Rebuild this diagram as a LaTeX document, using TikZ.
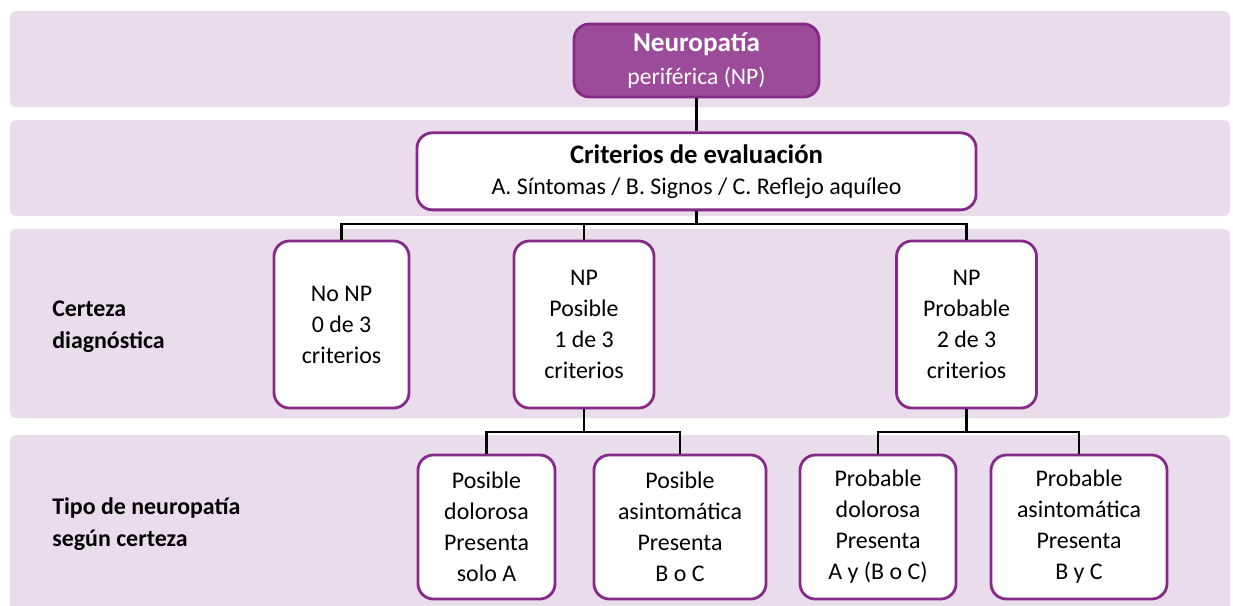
\documentclass[tikz,border=0pt]{standalone}
\usepackage{fontspec}
\setmainfont{Carlito}
\usepackage{xcolor}
\usepackage{tikz}
\usetikzlibrary{positioning,calc}

\definecolor{bandfill}{HTML}{EADDEB}
\definecolor{boxline}{HTML}{862A8A}
\definecolor{topfill}{HTML}{9B4B99}

\begin{document}
\begin{tikzpicture}[x=0.025cm, y=-0.025cm]
        % Kiểu cho các dải nền, các ô và đường nối
        \tikzstyle{band} = [fill=bandfill, rounded corners=4pt]
        \tikzstyle{box} = [
            draw=boxline,
            line width=2pt,
            fill=white,
            rounded corners=11pt,
            align=center,
            inner sep=0pt,
            font=\fontsize{17}{22}\selectfont
        ]
        \tikzstyle{topbox} = [box, fill=topfill, text=white, font=\fontsize{16.8}{23}\selectfont]
        \tikzstyle{link} = [line width=1.6pt]
        \tikzstyle{rowlabel} = [anchor=west, align=left, inner sep=0pt, font=\fontsize{17}{22.5}\selectfont\bfseries]

        \useasboundingbox (0,0) rectangle (1233,605);
        \clip (0,0) rectangle (1233,605);

        % Bốn dải nền
        \fill[band] (10,11) rectangle (1230,107);
        \fill[band] (10,120) rectangle (1230,216);
        \fill[band] (10,229) rectangle (1230,418);
        \fill[band] (10,435) rectangle (1230,620);

        % Nhãn bên trái
        \node[rowlabel] (certeza) at (52,327) {Certeza\\diagnóstica};
        \node[rowlabel] (tipo) at (52,524) {Tipo de neuropatía\\según certeza};

        % Ô gốc và ô tiêu chí
        \node[topbox, minimum width=6.125cm, minimum height=1.825cm] (np) at (696.5,60.5)
            {{\fontsize{19.3}{23}\selectfont\bfseries Neuropatía}\\periférica (NP)};
        \node[box, minimum width=13.975cm, minimum height=1.925cm, below=0.825cm of np] (crit)
            {{\fontsize{19}{22}\selectfont\bfseries Criterios de evaluación}\\A. Síntomas / B. Signos / C. Reflejo aquíleo};

        % Ba ô mức chắc chắn
        \node[box, minimum width=3.375cm, minimum height=4.175cm] (nonp) at (341.5,324.5)
            {No NP\\0 de 3\\criterios};
        \node[box, minimum width=3.5cm, minimum height=4.175cm] (posible) at (584,324.5)
            {NP\\Posible\\1 de 3\\criterios};
        \node[box, minimum width=3.5cm, minimum height=4.175cm] (probable) at (966.5,324.5)
            {NP\\Probable\\2 de 3\\criterios};

        % Bốn ô loại bệnh
        \node[box, minimum width=3.425cm, minimum height=3.6cm] (posdol) at (486.5,527)
            {Posible\\dolorosa\\Presenta\\solo A};
        \node[box, minimum width=4.3cm, minimum height=3.6cm] (posasin) at (680,527)
            {Posible\\asintomática\\Presenta\\B o C};
        \node[box, minimum width=3.9cm, minimum height=3.6cm] (probdol) at (878,527)
            {Probable\\dolorosa\\Presenta\\A y (B o C)};
        \node[box, minimum width=4.4cm, minimum height=3.6cm] (probasin) at (1079,527)
            {Probable\\asintomática\\Presenta\\B y C};

        % Điểm rẽ nhánh
        \coordinate (bus1) at (696.5,224);
        \coordinate (bus2) at (584,432);
        \coordinate (bus3) at (966.5,432);

        % Đường nối
        \draw[link] (np) -- (crit);
        \draw[link] (crit.south) -- (bus1);
        \draw[link] (nonp.north) |- (bus1) -| (probable.north);
        \draw[link] (posible.north) -- (posible.north |- bus1);
        \draw[link] (posible.south) -- (bus2);
        \draw[link] (posdol.north) |- (bus2) -| (posasin.north);
        \draw[link] (probable.south) -- (bus3);
        \draw[link] (probdol.north) |- (bus3) -| (probasin.north);

    \end{tikzpicture}
\end{document}
